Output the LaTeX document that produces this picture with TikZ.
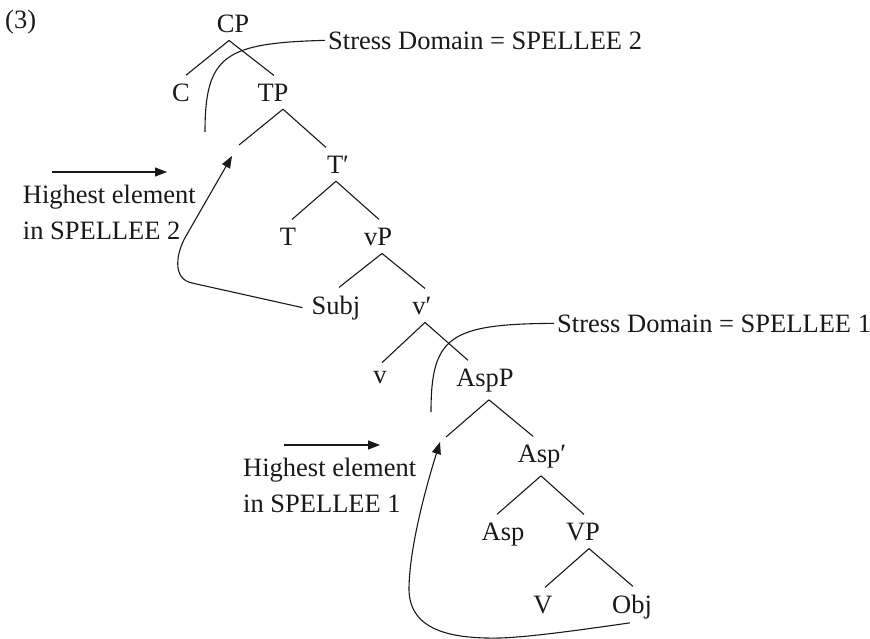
\documentclass[tikz,border=0pt]{standalone}
\usepackage{fontspec}
\setmainfont{Liberation Serif}
\usetikzlibrary{arrows.meta}
\begin{document}
\begin{tikzpicture}[x=1pt,y=-1pt,
  every node/.style={font=\fontsize{26.5pt}{31pt}\selectfont, text=black!90},
  lab/.style={anchor=base, inner xsep=0pt, inner ysep=8pt},
  txt/.style={anchor=base west, inner sep=0pt},
  branch/.style={line width=1.1pt, draw=black!90},
  arr/.style={line width=1.1pt, draw=black!90, -{Triangle[length=12pt,width=9pt]}},
]
\useasboundingbox (0,0) rectangle (870,638);

% example number
\node[txt] (ex) at (5,28) {(3)};

% tree nodes
\node[lab] (CP)   at (233,32)  {CP};
\node[lab] (C)    at (181,101) {C};
\node[lab] (TP)   at (273,101) {TP};
\node[lab] (Tb)   at (338,173) {T′};
\node[lab] (T)    at (288,245) {T};
\node[lab] (vP)   at (378,245) {vP};
\node[lab] (Subj) at (336,314) {Subj};
\node[lab] (vb)   at (422,314) {v′};
\node[lab] (v)    at (380,383) {v};
\node[lab] (AspP) at (485,386) {AspP};
\node[lab] (Aspb) at (542,462) {Asp′};
\node[lab] (Asp)  at (503,540) {Asp};
\node[lab] (VP)   at (583,540) {VP};
\node[lab] (V)    at (543,613) {V};
\node[lab] (Obj)  at (632,613) {Obj};

% free points
\coordinate (tr2)  at (239,145);
\coordinate (tip2) at (232,156);
\coordinate (tr1)  at (446,437);
\coordinate (tip1) at (440,442);
\coordinate (sd2e) at (205,132);
\coordinate (sd1e) at (431,412);
\coordinate (c2a)  at (192,283);
\coordinate (c2b)  at (186,236);
\coordinate (m1)   at (500,638);
\coordinate (m2)   at (409,590);
\coordinate (a2s)  at (52,172);
\coordinate (a2e)  at (167,172);
\coordinate (a1s)  at (284,445);
\coordinate (a1e)  at (380,445);

% branches
\draw[branch] ([xshift=-4pt]CP.south) -- ([xshift=5pt]C.north);
\draw[branch] ([xshift=-4pt]CP.south) -- ([xshift=1pt]TP.north);
\draw[branch] ([xshift=10pt]TP.south) -- (tr2);
\draw[branch] ([xshift=10pt]TP.south) -- ([xshift=-12pt]Tb.north);
\draw[branch] ([xshift=-2pt]Tb.south) -- ([xshift=4pt]T.north);
\draw[branch] ([xshift=-2pt]Tb.south) -- ([xshift=1pt]vP.north);
\draw[branch] ([xshift=4pt]vP.south) -- ([xshift=3pt]Subj.north);
\draw[branch] ([xshift=4pt]vP.south) -- ([xshift=3pt]vb.north);
\draw[branch] ([xshift=3pt]vb.south) -- ([xshift=2pt]v.north);
\draw[branch] ([xshift=3pt]vb.south) -- ([xshift=-17pt]AspP.north);
\draw[branch] ([xshift=4pt]AspP.south) -- (tr1);
\draw[branch] ([xshift=4pt]AspP.south) -- ([xshift=-9pt]Aspb.north);
\draw[branch] ([xshift=-1pt]Aspb.south) -- ([xshift=-6pt]Asp.north);
\draw[branch] ([xshift=-1pt]Aspb.south) -- ([xshift=1pt]VP.north);
\draw[branch] ([xshift=6pt]VP.south) -- ([xshift=2pt]V.north);
\draw[branch] ([xshift=6pt]VP.south) -- ([xshift=1pt]Obj.north);

% labels
\node[txt] (hl2a) at (22.7,203) {Highest element};
\node[txt] (hl2b) at (22.7,239) {in SPELLEE 2};
\node[txt] (hl1a) at (243,476) {Highest element};
\node[txt] (hl1b) at (243,512) {in SPELLEE 1};
\node[txt, inner xsep=3pt] (sd2) at (325,49) {Stress Domain = SPELLEE 2};
\node[txt, inner xsep=3pt] (sd1) at (554,332) {Stress Domain = SPELLEE 1};

% stress domain curves
\draw[branch] (sd2.west) .. controls (225,43) and (205,55) .. (sd2e);
\draw[branch] (sd1.west) .. controls (450,324) and (431,336) .. (sd1e);

% horizontal arrows
\draw[arr] (a2s) -- (a2e);
\draw[arr] (a1s) -- (a1e);

% movement arrows
\draw[arr] ([xshift=-9pt]Subj.west) -- (c2a) .. controls (172,279) and (176,253) .. (c2b) -- (tip2);
\draw[arr] ([shift={(-2pt,4pt)}]Obj.south) .. controls (580,630) and (530,637) .. (m1)
   .. controls (450,639) and (410,630) .. (m2) .. controls (409,550) and (425,490) .. (tip1);
\end{tikzpicture}
\end{document}
